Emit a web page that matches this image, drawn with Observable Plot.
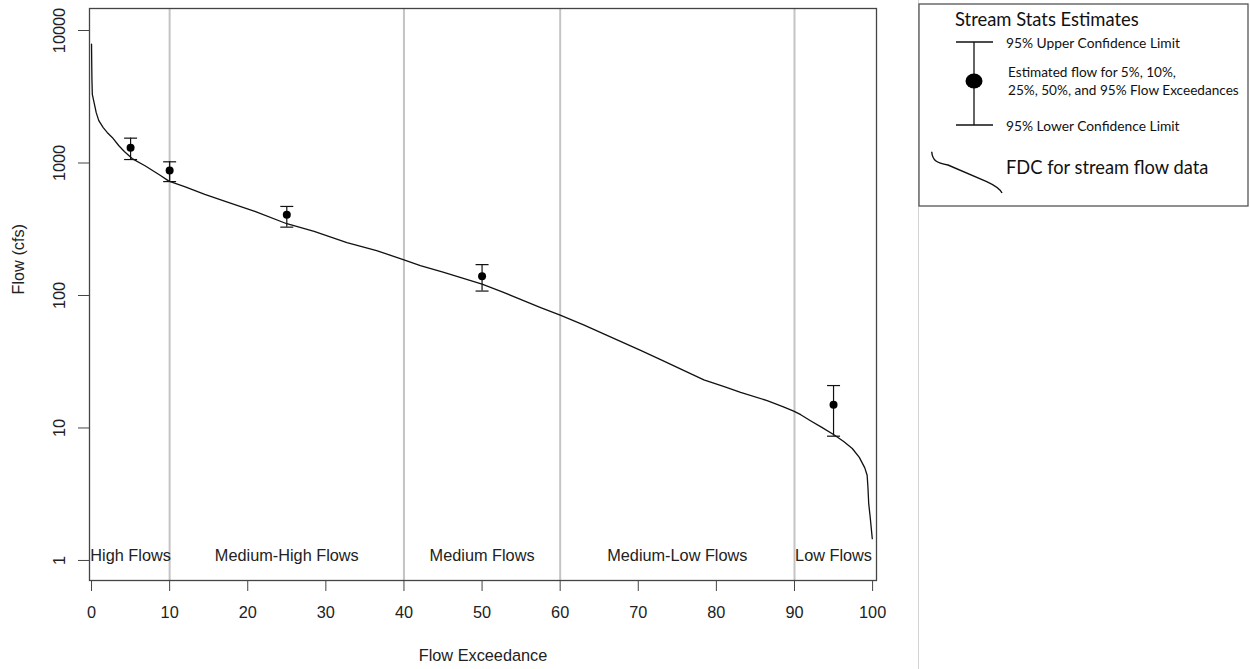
<!DOCTYPE html>
<html>
<head>
<meta charset="utf-8">
<script src="https://cdn.jsdelivr.net/npm/d3@7"></script>
<script src="https://cdn.jsdelivr.net/npm/@observablehq/plot@0.6"></script>
<style>
  html, body { margin: 0; padding: 0; background: #fff; }
  #wrap { position: relative; width: 1250px; height: 669px; overflow: hidden; background: #fff; }
  #chart { position: absolute; left: 0; top: 0; }
  #divider { position: absolute; left: 918px; top: 0; width: 1px; height: 669px; background: #d4d4d4; }
  #legend { position: absolute; left: 918px; top: 0; }
</style>
</head>
<body>
<div id="wrap">
  <div id="chart"></div>
  <div id="divider"></div>
  <div id="legend"></div>
</div>
<script>
// ---- Data ----
// Flow duration curve (exceedance %, flow cfs)
const fdcExceedance = [0, 0.02, 0.05, 0.1, 0.3, 0.6, 0.93, 1.5, 2.0, 2.65, 3.5, 4.2, 5.2, 6.9, 8.83, 9.9, 12, 14.5, 17.4, 21, 25, 28.5, 32.7, 36.5, 40, 42.1, 45, 47.5, 50, 52.5, 55, 57.5, 60, 63, 66, 70.3, 73, 75.8, 78.4, 81, 83.1, 86.5, 88.5, 89.9, 90.8, 92.1, 93.5, 95.05, 96.3, 97.4, 98.3, 99, 99.3, 99.4, 99.5, 99.7, 99.85, 99.96];
const fdcFlow       = [7900, 6000, 4300, 3300, 2900, 2400, 2090, 1850, 1700, 1560, 1350, 1220, 1080, 950, 805, 730, 660, 580, 506, 430, 348, 305, 251, 218, 186, 168, 150, 135, 122, 107, 93, 81, 71, 60, 50, 38.5, 32.5, 27.2, 23.1, 20.5, 18.6, 16.1, 14.5, 13.4, 12.6, 11.3, 10.1, 8.9, 7.9, 7.0, 6.0, 5.0, 4.4, 3.6, 2.7, 2.1, 1.7, 1.46];

// StreamStats estimates
const estExceedance = [5, 10, 25, 50, 95];
const estFlow       = [1303, 878, 406, 140, 15.0];
const estLower      = [1062, 724, 328, 108, 8.67];
const estUpper      = [1540, 1021, 470, 171, 20.9];

// Flow regimes
const regimeBounds = [0, 10, 40, 60, 90, 100];
const regimeNames  = ["High Flows", "Medium-High Flows", "Medium Flows", "Medium-Low Flows", "Low Flows"];

// Axis ticks
const xTicks = [0, 10, 20, 30, 40, 50, 60, 70, 80, 90, 100];
const yTicks = [1, 10, 100, 1000, 10000];

// ---- Build tables ----
const fdc = fdcExceedance.map((x, i) => ({x, y: fdcFlow[i]}));
const est = estExceedance.map((x, i) => ({x, y: estFlow[i], lo: estLower[i], hi: estUpper[i]}));
const regimes = regimeNames.map((name, i) => ({name, x: (regimeBounds[i] + regimeBounds[i + 1]) / 2}));
const dividers = regimeBounds.slice(1, -1);

const capSymbol = {
  draw(context, size) {
    const w = Math.sqrt(size / Math.PI);
    context.moveTo(-w, 0);
    context.lineTo(w, 0);
  }
};

const font = "'Liberation Sans', Arial, sans-serif";
const fs = 16.3;

const chart = Plot.plot({
  width: 918,
  height: 669,
  marginLeft: 89,
  marginRight: 42,
  marginTop: 8,
  marginBottom: 89,
  style: {fontFamily: font, fontSize: fs + "px", color: "#222", background: "white"},
  x: {domain: [-0.26, 100.5]},
  y: {type: "log", domain: [0.706, 14660]},
  marks: [
    Plot.ruleX(dividers, {stroke: "#c4c4c4", strokeWidth: 2}),
    Plot.line(fdc, {x: "x", y: "y", stroke: "#111", strokeWidth: 1.3}),
    Plot.ruleX(est, {x: "x", y1: "lo", y2: "hi", stroke: "#111", strokeWidth: 1.2}),
    Plot.dot(est, {x: "x", y: "lo", r: 6.5, symbol: capSymbol, stroke: "#111", strokeWidth: 1.2, fill: "none"}),
    Plot.dot(est, {x: "x", y: "hi", r: 6.5, symbol: capSymbol, stroke: "#111", strokeWidth: 1.2, fill: "none"}),
    Plot.dot(est, {x: "x", y: "y", r: 4, fill: "#000", stroke: "none"}),
    Plot.text(regimes, {x: "x", text: "name", frameAnchor: "bottom", dy: -25, lineAnchor: "middle", fontSize: fs, fill: "#222"}),
    Plot.frame({stroke: "#444", strokeWidth: 1.3}),
    Plot.axisX(xTicks, {tickSize: 11, tickPadding: 15, fontSize: fs, label: null, stroke: "#444"}),
    Plot.axisY(yTicks, {tickSize: 11, tickFormat: () => "", label: null, stroke: "#444"}),
    Plot.text(yTicks, {y: d => d, text: d => String(d), frameAnchor: "left", dx: -30, rotate: -90, textAnchor: "middle", lineAnchor: "middle", fontSize: fs, fill: "#222"}),
    Plot.text(["Flow Exceedance"], {frameAnchor: "bottom", dy: 75, lineAnchor: "middle", fontSize: fs, fill: "#222"}),
    Plot.text(["Flow (cfs)"], {frameAnchor: "left", dx: -71, rotate: -90, lineAnchor: "middle", fontSize: fs, fill: "#222"})
  ]
});
document.getElementById("chart").appendChild(chart);

// ---- Legend ----
const lf = "Lato, 'Open Sans', sans-serif";
const svg = d3.select("#legend").append("svg").attr("width", 332).attr("height", 210);
svg.append("rect").attr("x", 1).attr("y", 4).attr("width", 329).attr("height", 202)
  .attr("fill", "white").attr("stroke", "#555").attr("stroke-width", 1.3);
svg.append("text").attr("x", 37).attr("y", 19).attr("dominant-baseline", "central")
  .attr("font-family", lf).attr("font-size", 18.4).attr("fill", "#111").text("Stream Stats Estimates");
svg.append("line").attr("x1", 56).attr("x2", 56).attr("y1", 42).attr("y2", 125).attr("stroke", "#111").attr("stroke-width", 1.3);
svg.append("line").attr("x1", 38).attr("x2", 75).attr("y1", 42).attr("y2", 42).attr("stroke", "#111").attr("stroke-width", 1.3);
svg.append("line").attr("x1", 38).attr("x2", 75).attr("y1", 125).attr("y2", 125).attr("stroke", "#111").attr("stroke-width", 1.3);
svg.append("ellipse").attr("cx", 56).attr("cy", 81).attr("rx", 8.5).attr("ry", 7.5).attr("fill", "#000");
const lt = [
  ["95% Upper Confidence Limit", 88, 42, 13.8],
  ["Estimated flow for 5%, 10%,", 90, 72, 13.6],
  ["25%, 50%, and 95% Flow Exceedances", 90, 90, 13.6],
  ["95% Lower Confidence Limit", 88, 125, 13.8],
  ["FDC for stream flow data", 88, 167, 18.3]
];
lt.forEach(([t, x, y, s]) => {
  svg.append("text").attr("x", x).attr("y", y).attr("dominant-baseline", "central")
    .attr("font-family", lf).attr("font-size", s).attr("fill", "#111").text(t);
});
svg.append("path").attr("d", "M13.7,151.7 C14.5,160 18,163 30,165 L68.7,181.7 C78,186 82,189 84,193")
  .attr("fill", "none").attr("stroke", "#111").attr("stroke-width", 1.4);
</script>
</body>
</html>
